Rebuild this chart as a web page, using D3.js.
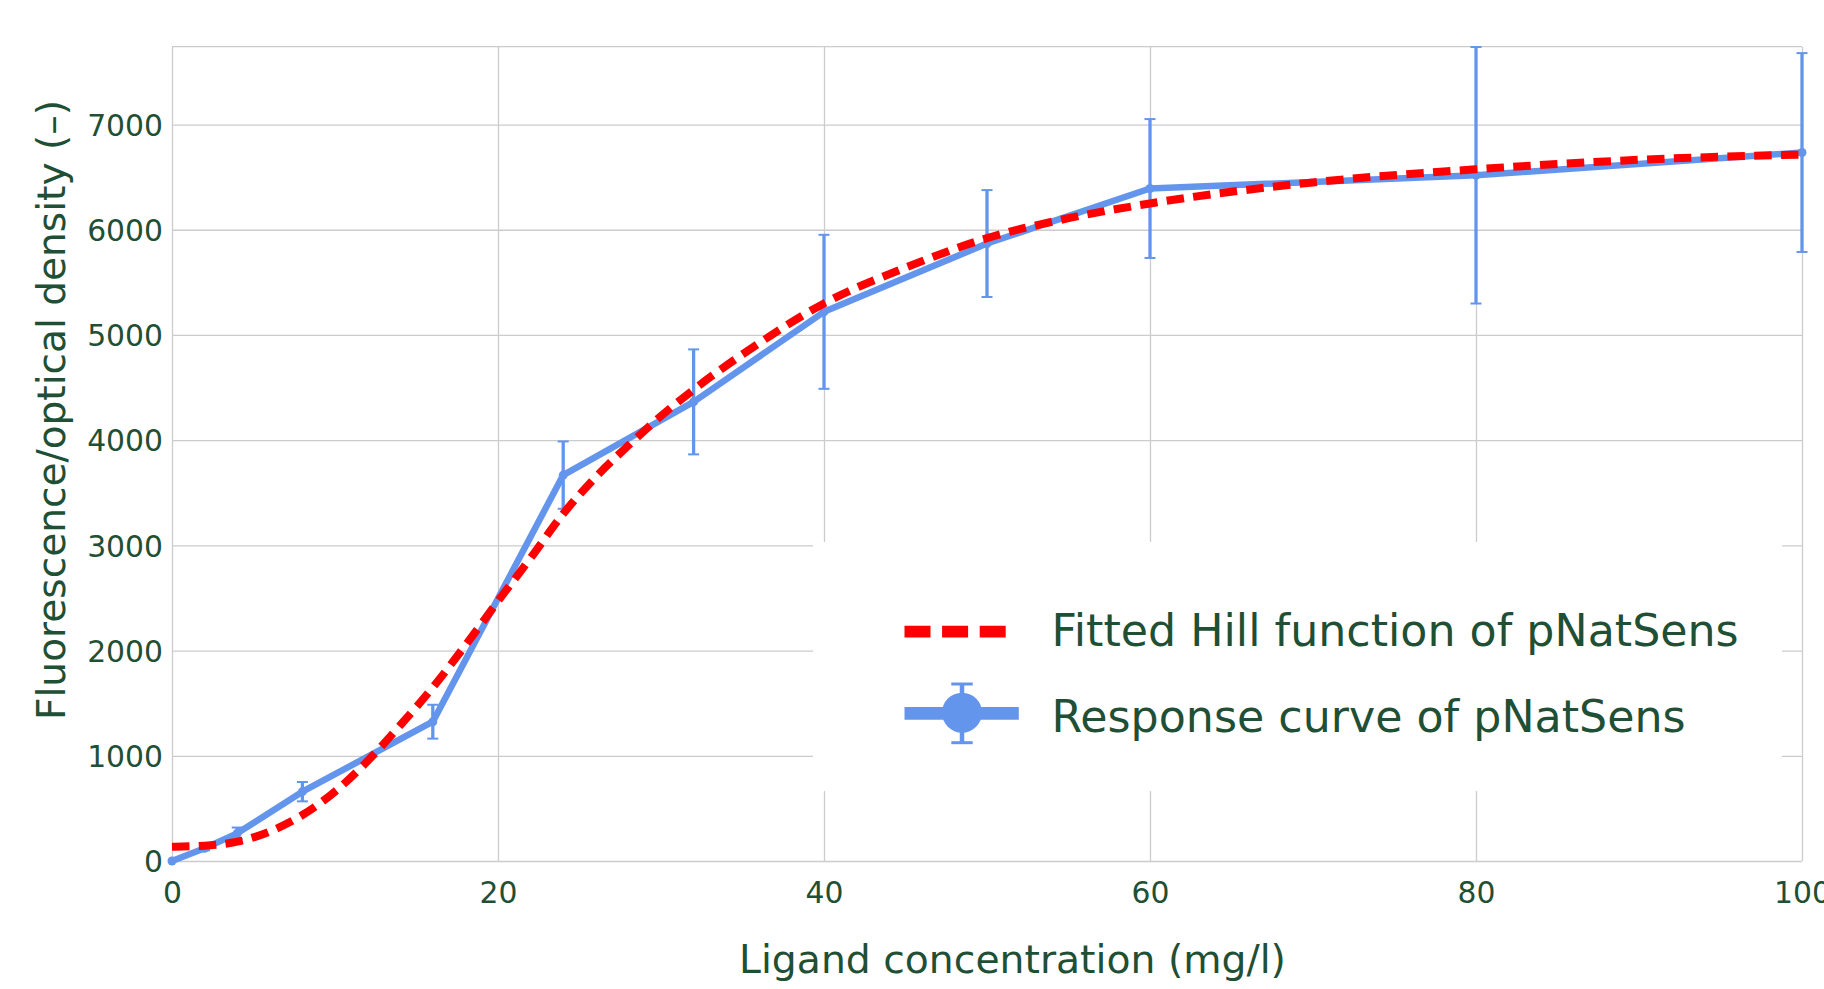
<!DOCTYPE html>
<html>
<head>
<meta charset="utf-8">
<script src="https://cdn.jsdelivr.net/npm/d3@7"></script>
<style>
  html, body { margin: 0; padding: 0; background: #fff; overflow: hidden; }
  svg { display: block; }
</style>
</head>
<body>
<div id="chart"></div>
<script>
// measured response (mean and error) of pNatSens
const concentrations = [0, 2, 4, 8, 16, 24, 32, 40, 50, 60, 80, 100];
const responseMeans = [0, 121, 263, 659, 1324, 3668, 4364, 5220, 5869, 6392, 6518, 6734];
const responseErrors = [0, 20, 55, 92, 161, 320, 499, 732, 508, 660, 1219, 945];

// fitted Hill curve
const hillConc = [0, 2, 4, 6, 8, 10, 12, 14, 16, 18, 20, 22, 24, 26, 28, 30, 32, 36, 40, 45, 50, 55, 60, 70, 80, 90, 100];
const hillValues = [136, 145, 184, 280, 437, 660, 950, 1290, 1650, 2050, 2470, 2880, 3300, 3650, 3950, 4230, 4480, 4920, 5300, 5640, 5920, 6110, 6250, 6450, 6575, 6665, 6715];

const xTicks = [0, 20, 40, 60, 80, 100];
const yTicks = [0, 1000, 2000, 3000, 4000, 5000, 6000, 7000];
const yMax = 7740;

const seriesNames = ["Fitted Hill function of pNatSens", "Response curve of pNatSens"];

const W = 1824, H = 989;
const margin = { top: 46.7, right: 22, bottom: 128, left: 172 };
const plotW = W - margin.left - margin.right;
const plotH = H - margin.top - margin.bottom;

const textColor = "#1f4f34";
const gridColor = "#cccccc";
const blue = "#6495ed";
const red = "#ff0000";
const font = "'DejaVu Sans', Verdana, sans-serif";

const svg = d3.select("#chart")
  .append("svg")
  .attr("width", W)
  .attr("height", H);

const g = svg.append("g")
  .attr("transform", "translate(" + margin.left + "," + margin.top + ")");

const x = d3.scaleLinear().domain([0, 100]).range([0, plotW]);
const y = d3.scaleLinear().domain([0, yMax]).range([plotH, 0]);

// top border of the plot area
g.append("line")
  .attr("x1", 0).attr("x2", plotW)
  .attr("y1", y(yMax)).attr("y2", y(yMax))
  .attr("stroke", gridColor)
  .attr("stroke-width", 1.3);

// y axis with gridlines
const yAxis = g.append("g")
  .call(d3.axisLeft(y).tickValues(yTicks).tickSize(-plotW).tickPadding(9).tickFormat(d3.format("d")));
yAxis.select(".domain").remove();
yAxis.selectAll("line").attr("stroke", gridColor).attr("stroke-width", 1.3);
yAxis.selectAll("text")
  .attr("fill", textColor)
  .style("font-family", font)
  .style("font-size", "29.8px")
  .attr("dy", "0.36em");

// x axis with gridlines
const xAxis = g.append("g")
  .attr("transform", "translate(0," + plotH + ")")
  .call(d3.axisBottom(x).tickValues(xTicks).tickSize(-plotH).tickPadding(21).tickFormat(d3.format("d")));
xAxis.select(".domain").remove();
xAxis.selectAll("line").attr("stroke", gridColor).attr("stroke-width", 1.3);
xAxis.selectAll("text")
  .attr("fill", textColor)
  .style("font-family", font)
  .style("font-size", "29.8px");

// white legend background sitting over the grid
const legendBox = { x: 813, y: 542, w: 969, h: 249 };
svg.append("rect")
  .attr("x", legendBox.x).attr("y", legendBox.y)
  .attr("width", legendBox.w).attr("height", legendBox.h)
  .attr("fill", "#fff");

// response series: line, error bars, points
const data = concentrations.map((c, i) => ({ c: c, v: responseMeans[i], e: responseErrors[i] }));

g.append("path")
  .datum(data)
  .attr("d", d3.line().x(d => x(d.c)).y(d => y(d.v)))
  .attr("fill", "none")
  .attr("stroke", blue)
  .attr("stroke-width", 6.5)
  .attr("stroke-linejoin", "round");

const bars = g.selectAll(".errbar")
  .data(data.filter(d => d.e > 0))
  .enter()
  .append("g")
  .attr("class", "errbar")
  .attr("stroke", blue)
  .attr("stroke-width", 3.3);

bars.append("line")
  .attr("x1", d => x(d.c)).attr("x2", d => x(d.c))
  .attr("y1", d => y(d.v - d.e)).attr("y2", d => y(d.v + d.e));
bars.append("line")
  .attr("x1", d => x(d.c) - 5.5).attr("x2", d => x(d.c) + 5.5)
  .attr("y1", d => y(d.v + d.e)).attr("y2", d => y(d.v + d.e))
  .attr("stroke-width", 2);
bars.append("line")
  .attr("x1", d => x(d.c) - 5.5).attr("x2", d => x(d.c) + 5.5)
  .attr("y1", d => y(d.v - d.e)).attr("y2", d => y(d.v - d.e))
  .attr("stroke-width", 2);

g.selectAll(".pt")
  .data(data)
  .enter()
  .append("circle")
  .attr("class", "pt")
  .attr("cx", d => x(d.c))
  .attr("cy", d => y(d.v))
  .attr("r", 4.5)
  .attr("fill", blue);

// fitted Hill function, dashed, drawn on top
const hill = hillConc.map((c, i) => ({ c: c, v: hillValues[i] }));
g.append("path")
  .datum(hill)
  .attr("d", d3.line().x(d => x(d.c)).y(d => y(d.v)).curve(d3.curveMonotoneX))
  .attr("fill", "none")
  .attr("stroke", red)
  .attr("stroke-width", 8)
  .attr("stroke-dasharray", "17.5 9.3");

// legend
const legend = svg.append("g");
legend.append("line")
  .attr("x1", 904.5).attr("x2", 1005.7)
  .attr("y1", 631.7).attr("y2", 631.7)
  .attr("stroke", red)
  .attr("stroke-width", 11.7)
  .attr("stroke-dasharray", "26 11.6");

legend.append("line")
  .attr("x1", 904.5).attr("x2", 1018.8)
  .attr("y1", 713.3).attr("y2", 713.3)
  .attr("stroke", blue)
  .attr("stroke-width", 12.7);
legend.append("line")
  .attr("x1", 962).attr("x2", 962)
  .attr("y1", 684).attr("y2", 742.7)
  .attr("stroke", blue)
  .attr("stroke-width", 4.5);
[684, 742.7].forEach(function(cy) {
  legend.append("line")
    .attr("x1", 951.3).attr("x2", 972.7)
    .attr("y1", cy).attr("y2", cy)
    .attr("stroke", blue)
    .attr("stroke-width", 3);
});
legend.append("circle")
  .attr("cx", 962).attr("cy", 712.7)
  .attr("r", 20)
  .attr("fill", blue);

legend.selectAll(".legtext")
  .data(seriesNames)
  .enter()
  .append("text")
  .attr("class", "legtext")
  .attr("x", 1051.5)
  .attr("y", (d, i) => [646, 732][i])
  .attr("fill", textColor)
  .style("font-family", font)
  .style("font-size", "44.3px")
  .text(d => d);

// axis titles
svg.append("text")
  .attr("x", 1012.5)
  .attr("y", 973)
  .attr("text-anchor", "middle")
  .attr("fill", textColor)
  .style("font-family", font)
  .style("font-size", "39.3px")
  .text("Ligand concentration (mg/l)");

svg.append("text")
  .attr("transform", "translate(64.5,410) rotate(-90)")
  .attr("text-anchor", "middle")
  .attr("fill", textColor)
  .style("font-family", font)
  .style("font-size", "39.1px")
  .text("Fluorescence/optical density (–)");
</script>
</body>
</html>
